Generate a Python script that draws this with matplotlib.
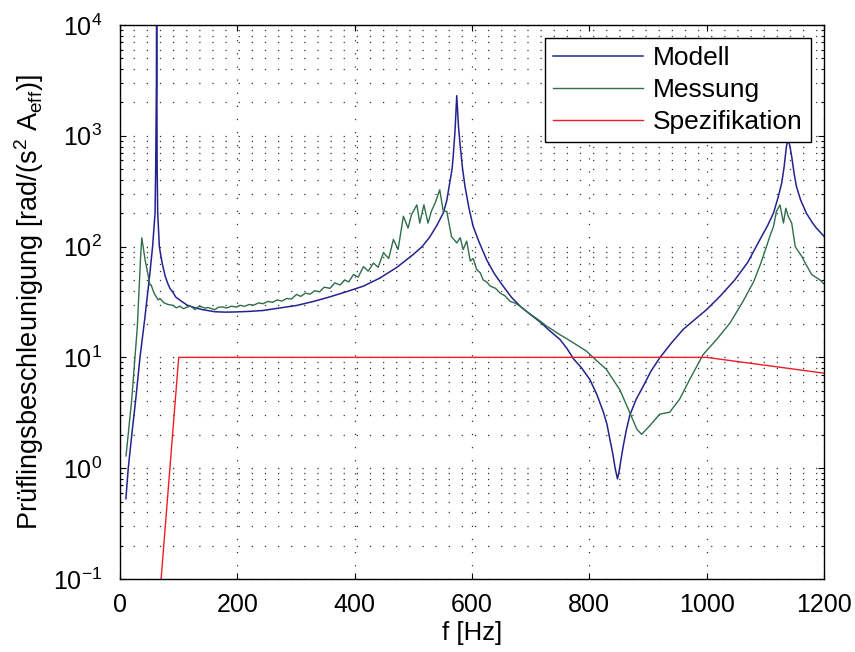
import matplotlib
matplotlib.use('Agg')
import matplotlib.pyplot as plt


# Modell (Simulation)
f_modell = [10, 14, 20, 27, 34, 42, 50, 55.5, 59.7, 60.8, 62.0, 62.4, 62.8, 63.2, 64.2,
            67, 70, 72, 77, 81, 85, 91, 95, 105, 115, 128, 140, 162, 180, 196, 220,
            244, 270, 301, 330, 358, 385, 415, 443, 472, 500, 515, 528, 540, 551, 557,
            562, 566, 568, 571, 574, 577, 580, 584, 588, 595, 602, 612, 625, 638, 653,
            667, 682, 699, 716, 733, 750, 762, 773, 787, 801, 813, 824, 830, 835, 840,
            844, 848, 851, 854, 858, 863, 869, 880, 892, 905, 920, 940, 960, 980, 1000,
            1023, 1048, 1070, 1091, 1104, 1114, 1122, 1128, 1132, 1136, 1139, 1142,
            1145, 1149, 1153, 1160, 1170, 1180, 1187, 1200]
a_modell = [0.53, 1.0, 2.0, 4.3, 10, 22, 52, 100, 200, 530, 3000, 30000, 3000, 530, 202,
            100, 80, 70, 54, 47, 42, 38, 35, 32, 29.5, 28, 27, 25.8, 25.6, 25.7, 26,
            26.5, 27.8, 29.4, 32, 35.2, 39, 44, 52, 65, 85, 100, 122, 155, 201, 260,
            375, 500, 655, 1100, 2300, 1200, 800, 500, 350, 220, 152, 110, 76, 57, 44,
            35, 29, 24.5, 20.9, 17.3, 14.5, 12, 9.7, 8, 6.3, 4.6, 3.2, 2.5, 1.83, 1.35,
            1.0, 0.8, 0.95, 1.2, 1.6, 2.2, 3.0, 4.2, 5.5, 7.5, 9.9, 13.5, 17.9, 22, 27,
            35.7, 50, 72, 116, 155, 201, 280, 375, 520, 800, 950, 800,
            650, 460, 350, 265, 200, 165, 147, 124]

# Messung
f_messung = [10.2, 20, 29.5, 35, 37, 40, 42.6, 45, 51, 53, 58, 65, 68, 75, 82, 90, 96,
             102, 108, 115, 120, 128, 134, 139, 145, 150, 156, 162, 168, 175, 182, 190,
             198, 205, 212, 220, 228, 236, 244, 252, 260, 268, 276, 284, 292, 301, 308,
             316, 324, 332, 340, 348, 358, 366, 375, 383, 390, 398, 406, 415, 423, 432,
             440, 449, 458, 466, 474, 483, 491, 497, 506, 511, 518, 525, 531, 537, 545,
             551, 557, 565, 574, 580, 585, 591, 597, 602, 608, 614, 619, 625, 631, 640,
             648, 656, 665, 673, 682, 693, 704, 715, 727, 738, 750, 761, 773, 784, 795,
             810, 829, 852, 869, 881, 889, 900, 920, 937, 954, 971, 994, 1017, 1040,
             1062, 1080, 1092, 1102, 1108, 1114, 1119, 1125, 1131, 1135, 1139, 1145,
             1151, 1156, 1162, 1168, 1179, 1193, 1200]
a_messung = [1.29, 4.2, 19, 80, 120, 95, 76, 66, 45, 45, 38, 33, 34, 31, 30, 29.5, 28,
             29, 27.5, 28.5, 29, 27, 28.8, 28.6, 27.8, 28.2, 27.5, 27, 28.4, 28.5, 27.9, 29,
             28.4, 29.5, 28.9, 30, 29.6, 31, 30.5, 32, 31.4, 33, 32.2, 34, 33.6, 37, 35.5,
             38, 37.2, 40, 39, 43, 42, 47, 45, 50, 48, 56, 53, 66, 60, 71,
             65, 88, 78, 116, 94, 188, 147, 195, 238, 163, 238, 163, 210, 246, 325,
             208, 208, 123, 108, 120, 94, 112, 74, 78, 62, 58, 50, 48, 44, 42,
             38, 36, 32, 31, 29, 26, 23.6, 21.5, 19.2, 17.6, 16, 14.8, 13.5, 12.4, 11.4,
             9.6, 7.8, 5.1, 3.17, 2.25, 2.02, 2.32, 3.07, 3.2, 4.2, 6.3, 10.6, 14.5, 20.5,
             32, 48, 70, 100, 125, 152, 208, 238, 163, 222, 188, 163,
             100, 91, 82, 71, 56, 50, 46]

# Spezifikation
f_spez = [70, 100, 1000, 1200]
a_spez = [0.1, 10, 10, 7.2]


def main():
    plt.rcParams['font.family'] = ['Liberation Sans', 'DejaVu Sans']
    plt.rcParams['mathtext.fontset'] = 'custom'
    plt.rcParams['mathtext.rm'] = 'Liberation Sans'
    plt.rcParams['mathtext.it'] = 'Liberation Sans:italic'
    plt.rcParams['mathtext.bf'] = 'Liberation Sans:bold'
    plt.rcParams['axes.linewidth'] = 1.0

    fig = plt.figure(figsize=(8.55, 6.52), dpi=100)
    ax = fig.add_axes([0.1404, 0.112, 0.8233, 0.8497])

    ax.plot(f_modell, a_modell, color='#23238f', linewidth=1.1, label='Modell')
    ax.plot(f_messung, a_messung, color='#2f6e4a', linewidth=1.0, label='Messung')
    ax.plot(f_spez, a_spez, color='#ee1c25', linewidth=1.0, label='Spezifikation')

    ax.set_yscale('log')
    ax.set_xlim(0, 1200)
    ax.set_ylim(0.1, 1e4)
    ax.set_xticks(range(0, 1201, 200))

    grid_style = dict(color='0.2', linewidth=0.9, linestyle=(0, (1, 9.5)))
    ax.xaxis.grid(True, which='major', **grid_style)
    ax.yaxis.grid(True, which='both', **grid_style)

    ax.tick_params(which='both', direction='in', top=True, right=True, labelsize=18)
    ax.tick_params(which='major', length=4, width=0.8)
    ax.tick_params(which='minor', length=2.5, width=0.8)
    ax.tick_params(axis='y', pad=13)
    ax.tick_params(axis='x', pad=10)

    ax.set_xlabel('f [Hz]', fontsize=18.5, labelpad=3)
    ax.set_ylabel('Prüflingsbeschleunigung [rad/(s$^2$ A$_{\\mathrm{eff}}$)]',
                  fontsize=19.5, labelpad=5)

    leg = ax.legend(loc='upper right', fontsize=19, fancybox=False, framealpha=1,
                    edgecolor='black', handlelength=3.4, handletextpad=0.4,
                    labelspacing=0.3, borderpad=0.3, borderaxespad=0.5)
    leg.get_frame().set_linewidth(1.0)

    fig.savefig('out.png', dpi=100)


if __name__ == "__main__":
    main()
